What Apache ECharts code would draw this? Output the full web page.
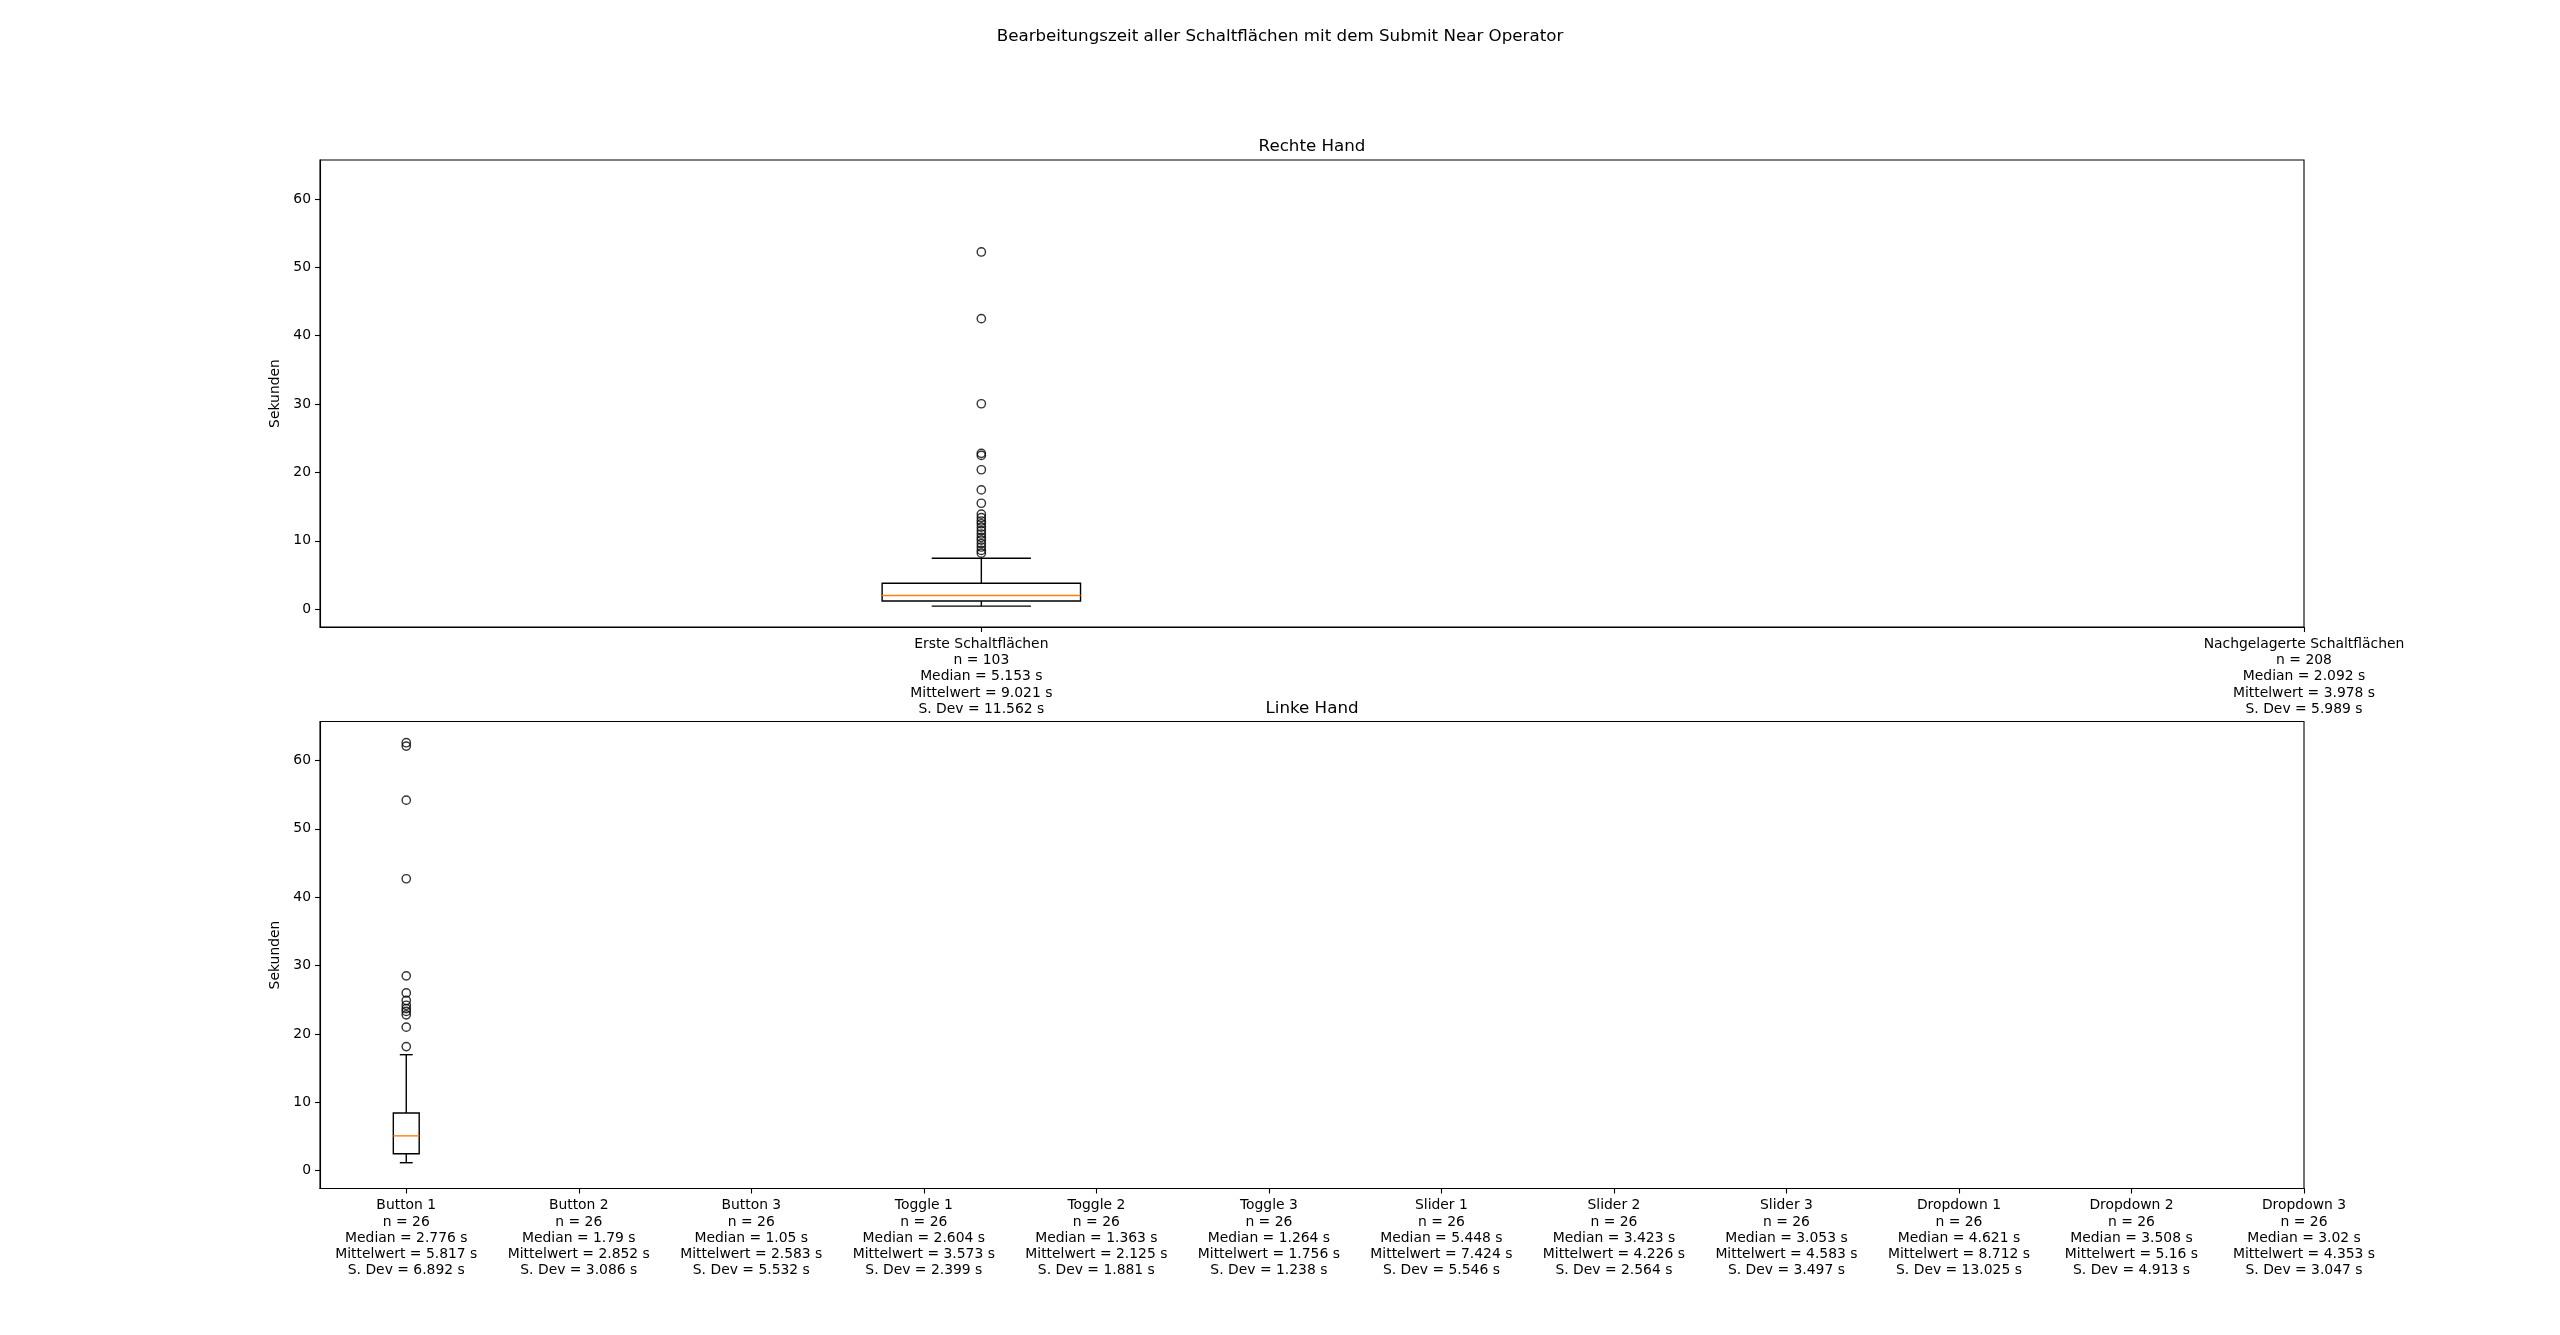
<!DOCTYPE html>
<html>
<head>
<meta charset="utf-8">
<script src="https://cdn.jsdelivr.net/npm/echarts@6/dist/echarts.min.js"></script>
<style>
html,body{margin:0;padding:0;background:#fff;}
#chart{width:2560px;height:1335px;}
</style>
</head>
<body>
<div id="chart"></div>
<script>
// ---- Data ----
const figTitle = 'Bearbeitungszeit aller Schaltflächen mit dem Submit Near Operator';
const topTitle = 'Rechte Hand';
const bottomTitle = 'Linke Hand';
const yLabel = 'Sekunden';
const yTicks = [0, 10, 20, 30, 40, 50, 60];

const topCategories = ['Erste Schaltflächen', 'Nachgelagerte Schaltflächen'];
const topN = [103, 208];
const topMedian = ['5.153', '2.092'];
const topMean = ['9.021', '3.978'];
const topSD = ['11.562', '5.989'];
// [position, lower whisker, Q1, median, Q3, upper whisker]
const topBox = [[1, 0.45, 1.2, 2.0, 3.8, 7.46]];
const topOutliers = [52.25, 42.5, 30.05, 22.8, 22.5, 20.4, 17.45, 15.5, 13.9, 13.4, 12.9, 12.5, 12.0, 11.5, 11.0, 10.5, 10.1, 9.6, 9.1, 8.6, 8.2];

const bottomCategories = ['Button 1', 'Button 2', 'Button 3', 'Toggle 1', 'Toggle 2', 'Toggle 3', 'Slider 1', 'Slider 2', 'Slider 3', 'Dropdown 1', 'Dropdown 2', 'Dropdown 3'];
const bottomN = [26, 26, 26, 26, 26, 26, 26, 26, 26, 26, 26, 26];
const bottomMedian = ['2.776', '1.79', '1.05', '2.604', '1.363', '1.264', '5.448', '3.423', '3.053', '4.621', '3.508', '3.02'];
const bottomMean = ['5.817', '2.852', '2.583', '3.573', '2.125', '1.756', '7.424', '4.226', '4.583', '8.712', '5.16', '4.353'];
const bottomSD = ['6.892', '3.086', '5.532', '2.399', '1.881', '1.238', '5.546', '2.564', '3.497', '13.025', '4.913', '3.047'];
const bottomBox = [[1, 1.17, 2.48, 5.1, 8.44, 16.97]];
const bottomOutliers = [62.6, 62.1, 54.2, 42.7, 28.5, 26.0, 24.9, 24.2, 23.7, 23.3, 22.8, 21.0, 18.15];

// ---- Helpers ----
const FONT = 'DejaVu Sans';
const LW = 1.4;
const BOX_W = 0.15;

function labelText(cats, n, med, mean, sd, i) {
  return cats[i] + '\nn = ' + n[i] + '\nMedian = ' + med[i] + ' s\nMittelwert = ' + mean[i] + ' s\nS. Dev = ' + sd[i] + ' s';
}

function renderBox(params, api) {
  const x = api.value(0);
  const lo = api.value(1), q1 = api.value(2), md = api.value(3), q3 = api.value(4), hi = api.value(5);
  const w = api.size([BOX_W, 0])[0];
  const c = api.coord([x, md]);
  const cx = c[0];
  const yLo = api.coord([x, lo])[1];
  const yQ1 = api.coord([x, q1])[1];
  const yMd = c[1];
  const yQ3 = api.coord([x, q3])[1];
  const yHi = api.coord([x, hi])[1];
  const ls = {stroke: '#000', lineWidth: LW, fill: null};
  return {
    type: 'group',
    children: [
      {type: 'line', shape: {x1: cx, y1: yQ1, x2: cx, y2: yLo}, style: ls},
      {type: 'line', shape: {x1: cx, y1: yQ3, x2: cx, y2: yHi}, style: ls},
      {type: 'line', shape: {x1: cx - w / 4, y1: yLo, x2: cx + w / 4, y2: yLo}, style: ls},
      {type: 'line', shape: {x1: cx - w / 4, y1: yHi, x2: cx + w / 4, y2: yHi}, style: ls},
      {type: 'rect', shape: {x: cx - w / 2, y: yQ3, width: w, height: yQ1 - yQ3}, style: {stroke: '#000', lineWidth: LW, fill: 'rgba(0,0,0,0)'}},
      {type: 'line', shape: {x1: cx - w / 2, y1: yMd, x2: cx + w / 2, y2: yMd}, style: {stroke: '#ff7f0e', lineWidth: LW}}
    ]
  };
}

const grids = [
  {left: 320, width: 1984, top: 160, height: 467},
  {left: 320, width: 1984, top: 721.5, height: 467}
];

function yAxisDef(gi) {
  return {
    type: 'value', gridIndex: gi, min: -2.6, max: 65.7,
    name: yLabel, nameLocation: 'middle', nameGap: 31, nameRotate: 90,
    nameTextStyle: {fontFamily: FONT, fontSize: 13.9, color: '#000'},
    axisLine: {show: true, lineStyle: {color: '#000', width: 1.1}},
    axisTick: {show: true, length: 5, customValues: yTicks, lineStyle: {color: '#000', width: 1.1}},
    axisLabel: {customValues: yTicks, margin: 9, fontFamily: FONT, fontSize: 13.9, color: '#000', padding: [3, 0, 0, 0]},
    splitLine: {show: false}
  };
}

function xAxisDef(gi, min, max, cats, n, med, mean, sd) {
  const vals = cats.map((_, i) => i + 1);
  return {
    type: 'value', gridIndex: gi, min: min, max: max,
    axisLine: {show: true, onZero: false, lineStyle: {color: '#000', width: 1.1}},
    axisTick: {show: true, length: 5, customValues: vals, lineStyle: {color: '#000', width: 1.1}},
    axisLabel: {
      customValues: vals, margin: 9, fontFamily: FONT, fontSize: 13.9, color: '#000', lineHeight: 16.3,
      align: 'center', showMinLabel: true, showMaxLabel: true,
      formatter: function (v) {
        const i = Math.round(v) - 1;
        return (i >= 0 && i < cats.length) ? labelText(cats, n, med, mean, sd, i) : '';
      }
    },
    splitLine: {show: false}
  };
}

const option = {
  backgroundColor: '#fff',
  animation: false,
  grid: grids.map(g => Object.assign({show: true, borderColor: '#000', borderWidth: 1.1, backgroundColor: 'rgba(0,0,0,0)'}, g)),
  xAxis: [
    xAxisDef(0, 0.5, 2, topCategories, topN, topMedian, topMean, topSD),
    xAxisDef(1, 0.5, 12, bottomCategories, bottomN, bottomMedian, bottomMean, bottomSD)
  ],
  yAxis: [yAxisDef(0), yAxisDef(1)],
  graphic: [
    {type: 'text', x: 1280, y: 37, style: {text: figTitle, textAlign: 'center', textVerticalAlign: 'middle', fontFamily: FONT, fontSize: 16.7, fill: '#000'}},
    {type: 'text', x: 1312, y: 147, style: {text: topTitle, textAlign: 'center', textVerticalAlign: 'middle', fontFamily: FONT, fontSize: 16.7, fill: '#000'}},
    {type: 'text', x: 1312, y: 708.5, style: {text: bottomTitle, textAlign: 'center', textVerticalAlign: 'middle', fontFamily: FONT, fontSize: 16.7, fill: '#000'}}
  ],
  series: [
    {type: 'custom', xAxisIndex: 0, yAxisIndex: 0, renderItem: renderBox, data: topBox, encode: {x: 0, y: [1, 2, 3, 4, 5]}, silent: true},
    {type: 'custom', xAxisIndex: 1, yAxisIndex: 1, renderItem: renderBox, data: bottomBox, encode: {x: 0, y: [1, 2, 3, 4, 5]}, silent: true},
    {type: 'scatter', xAxisIndex: 0, yAxisIndex: 0, symbol: 'circle', symbolSize: 8.3,
      itemStyle: {color: 'rgba(0,0,0,0)', borderColor: '#000', borderWidth: 1.4},
      data: topOutliers.map(v => [1, v]), silent: true},
    {type: 'scatter', xAxisIndex: 1, yAxisIndex: 1, symbol: 'circle', symbolSize: 8.3,
      itemStyle: {color: 'rgba(0,0,0,0)', borderColor: '#000', borderWidth: 1.4},
      data: bottomOutliers.map(v => [1, v]), silent: true}
  ]
};

const chart = echarts.init(document.getElementById('chart'), null, {renderer: 'canvas'});
chart.setOption(option);
</script>
</body>
</html>
